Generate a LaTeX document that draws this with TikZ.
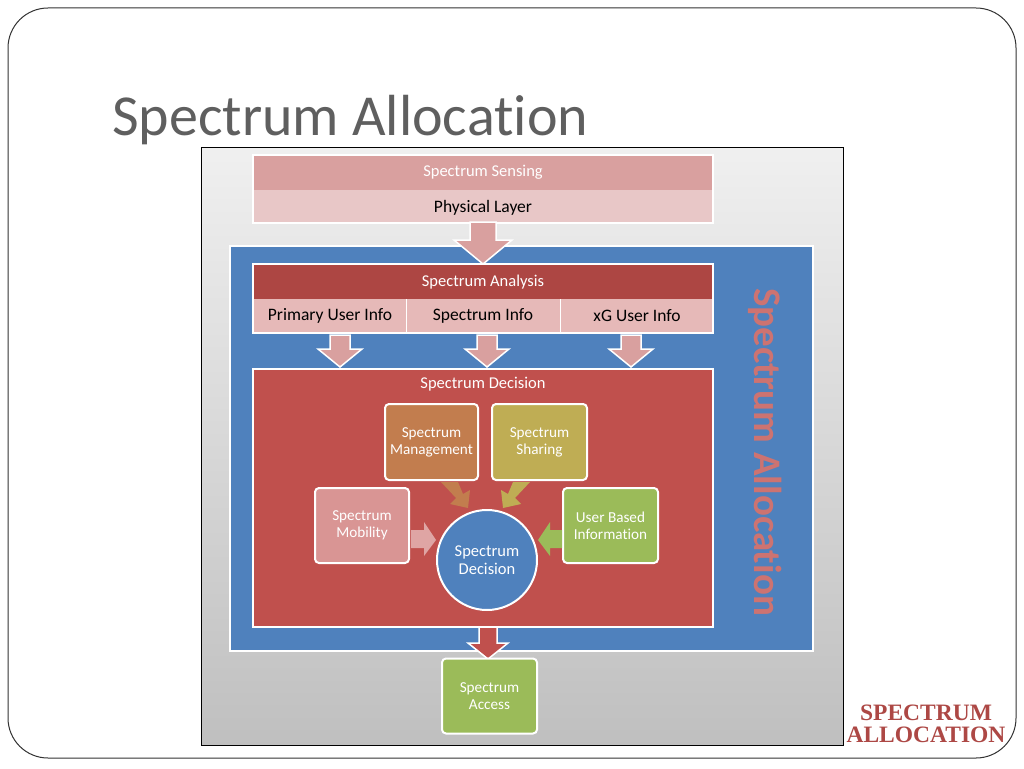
\documentclass[tikz,border=0pt]{standalone}
\usepackage{fontspec}
\setmainfont{Carlito}[RawFeature=-liga]
\newfontfamily\serifb{Liberation Serif}
\usetikzlibrary{shapes.arrows,shadows}
\definecolor{blu}{HTML}{4F81BD}
\definecolor{red1}{HTML}{C0504D}
\definecolor{red2}{HTML}{AD4643}
\definecolor{pk1}{HTML}{D9A09F}
\definecolor{pk2}{HTML}{E8C7C7}
\definecolor{pk3}{HTML}{E6B9B8}
\definecolor{mgmt}{HTML}{C27D4E}
\definecolor{shar}{HTML}{BFAD54}
\definecolor{mob}{HTML}{D99594}
\definecolor{grn}{HTML}{9BBB59}
\definecolor{ttl}{HTML}{5F5F5F}
\newcommand{\barrow}[7]{% x ytop ybot shaft head headlen color
  \fill[#7,draw=white,line width=1.5pt] (#1-#4/2,#2) -- (#1+#4/2,#2) -- (#1+#4/2,#3-#6) -- (#1+#5/2,#3-#6) -- (#1,#3) -- (#1-#5/2,#3-#6) -- (#1-#4/2,#3-#6) -- cycle;}
\tikzset{
  bx/.style={draw=white,line width=2pt,rounded corners=4pt,text=white,align=center,font=\fontsize{15.2}{17}\selectfont,inner sep=0pt},
  cell/.style={font=\fontsize{17.5}{19}\selectfont,text=black}
}
\begin{document}
\begin{tikzpicture}[x=1pt,y=-1pt]
\useasboundingbox (0,0) rectangle (1024,768);
\fill[white] (0,0) rectangle (1024,768);
\draw[black!80,line width=1pt,rounded corners=40pt] (8,8) rectangle (1016,758);
\node[anchor=base west,text=ttl,font=\fontsize{58}{62}\selectfont,inner sep=0pt] (title) at (112,135) {Spectrum Allocation};
% grey panel
\shade[top color=black!6,bottom color=black!25] (201,147) rectangle (843,745);
\draw[black,line width=0.8pt] (201,147) rectangle (843,745);
% top box
\fill[pk1] (253,155) rectangle (713,190);
\fill[pk2] (253,190) rectangle (713,223);
\draw[white,line width=1.5pt] (253,155) rectangle (713,223);
\node[text=white,font=\fontsize{16.5}{18}\selectfont] (sens) at (483,172) {Spectrum Sensing};
\node[cell] (phys) at (483,208) {Physical Layer};
% blue box
\fill[blu,draw=white,line width=2pt] (230,246) rectangle (813,651);
\barrow{483}{222}{264}{26}{58}{24}{pk1}
% analysis
\fill[red2] (253,264) rectangle (713,299);
\fill[pk3] (253,299) rectangle (713,333);
\draw[white,line width=0.6pt] (406,299)--(406,333) (560,299)--(560,333);
\draw[white,line width=1.5pt] (253,264) rectangle (713,333);
\node[text=white,font=\fontsize{16.5}{18}\selectfont] (ana) at (483,282) {Spectrum Analysis};
\node[cell] (pui) at (330,316) {Primary User Info};
\node[cell] (si) at (483,316) {Spectrum Info};
\node[cell] (xg) at (637,316) {xG User Info};
\barrow{340}{335}{367}{20}{44}{18}{pk1}
\barrow{487}{335}{367}{20}{44}{18}{pk1}
\barrow{631}{335}{367}{20}{44}{18}{pk1}
% decision
\fill[red1,draw=white,line width=2pt] (253,369) rectangle (713,627);
\node[text=white,font=\fontsize{16.5}{18}\selectfont] (dec) at (483,384) {Spectrum Decision};
\node[bx,fill=mgmt,minimum width=93pt,minimum height=76pt] (mg) at (431.5,442) {Spectrum\\Management};
\node[bx,fill=shar,minimum width=95pt,minimum height=76pt] (sh) at (539.5,442) {Spectrum\\Sharing};
\node[bx,fill=mob,minimum width=94pt,minimum height=75pt] (mo) at (362,525.5) {Spectrum\\Mobility};
\node[bx,fill=grn,minimum width=95pt,minimum height=75pt] (ub) at (610.5,525.5) {User Based\\Information};
% small arrows into circle
\fill[mgmt] (441,482)--(458,482)--(463,494)--(470,490)--(468,508)--(450,504)--(456,498)--cycle;
\fill[shar] (530,482)--(513,482)--(508,494)--(501,490)--(503,508)--(521,504)--(515,498)--cycle;
\fill[mob!85!white] (411,530)--(424,530)--(424,522)--(436,540)--(424,556)--(424,548)--(411,548)--cycle;
\fill[grn] (562,530)--(550,530)--(550,522)--(538,540)--(550,556)--(550,548)--(562,548)--cycle;
\node[circle,fill=blu,draw=white,line width=2pt,minimum size=100pt,text=white,align=center,font=\fontsize{16.5}{18.5}\selectfont,inner sep=0pt] (sd) at (487,560) {Spectrum\\Decision};
% access
\barrow{488}{627}{659}{18}{40}{16}{red1}
\node[bx,fill=grn,minimum width=95pt,minimum height=75pt] (acc) at (489.5,696) {Spectrum\\Access};
% vertical label
\node[rotate=-90,text=red1!80!white,font=\bfseries\fontsize{39}{42}\selectfont,inner sep=0pt] (va) at (765,452) {Spectrum Allocation};
% corner logo
\node[text=red1!90!black,font=\serifb\bfseries\fontsize{23.5}{25}\selectfont,align=center,inner sep=0pt] (logo) at (926,724) {SPECTRUM\\[-3pt]ALLOCATION};
\end{tikzpicture}
\end{document}
